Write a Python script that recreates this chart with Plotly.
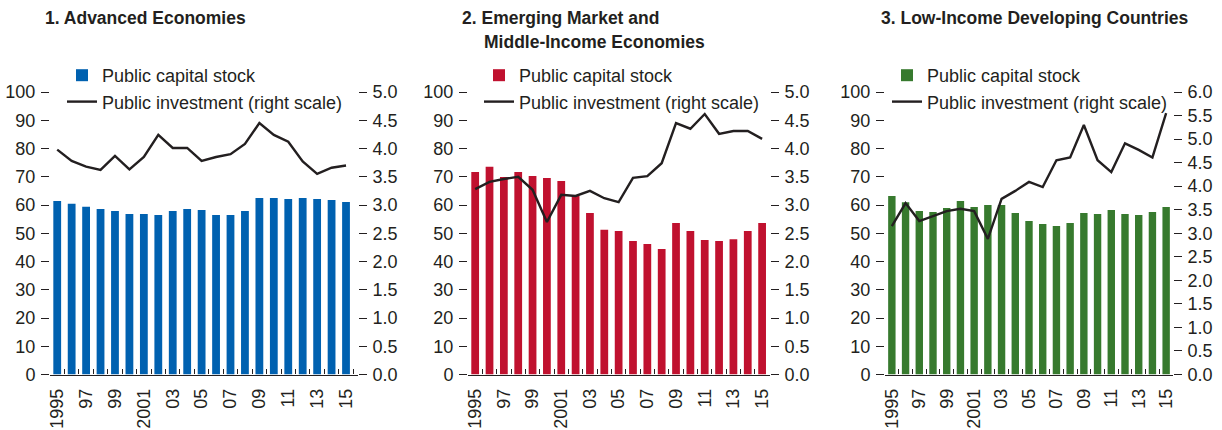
import plotly.graph_objects as go

years = [str(y) for y in range(1995, 2016)]
year_labels = ["1995", "", "97", "", "99", "", "2001", "", "03", "", "05", "",
               "07", "", "09", "", "11", "", "13", "", "15"]

adv_stock = [61.4, 60.4, 59.4, 58.6, 57.9, 56.8, 56.8, 56.5, 57.9, 58.6, 58.2,
             56.5, 56.5, 57.9, 62.5, 62.5, 62.1, 62.5, 62.1, 61.8, 61.1]
adv_inv = [3.98, 3.78, 3.68, 3.62, 3.87, 3.63, 3.85, 4.24, 4.01, 4.01, 3.78,
           3.85, 3.90, 4.08, 4.45, 4.24, 4.12, 3.77, 3.55, 3.66, 3.70]

em_stock = [71.7, 73.5, 69.9, 71.7, 70.3, 69.6, 68.5, 63.2, 57.2, 51.2, 50.8,
            47.3, 46.2, 44.4, 53.6, 50.8, 47.6, 47.3, 47.9, 50.8, 53.6]
em_inv = [3.28, 3.41, 3.46, 3.50, 3.27, 2.70, 3.18, 3.16, 3.25, 3.12, 3.05,
          3.48, 3.51, 3.74, 4.45, 4.35, 4.61, 4.26, 4.31, 4.31, 4.17]

lic_stock = [63.2, 61.0, 57.9, 57.5, 58.9, 61.4, 59.3, 60.0, 60.0, 57.2, 54.3,
             53.3, 52.6, 53.6, 57.2, 56.8, 58.2, 56.8, 56.5, 57.5, 59.3]
lic_inv = [3.15, 3.64, 3.26, 3.36, 3.47, 3.52, 3.47, 2.88, 3.73, 3.90, 4.09,
           3.98, 4.55, 4.61, 5.30, 4.55, 4.30, 4.91, 4.77, 4.61, 5.55]

titles = ["1. Advanced Economies", "2. Emerging Market and",
          "Middle-Income Economies", "3. Low-Income Developing Countries"]
bar_name = "Public capital stock"
line_name = "Public investment (right scale)"

colors = ["#0061b0", "#c0112f", "#377a2e"]
INK = "#231f20"
FONT = "Liberation Sans, Arial, sans-serif"
FS = 18

W, H = 1222, 430
def fx(px):
    return px / W
def fy(py):
    return 1 - py / H

panels = [
    dict(stock=adv_stock, inv=adv_inv, color=colors[0], left=50, right=358,
         xr=[-0.5, 20.83], rmax=5.0, legx=62),
    dict(stock=em_stock, inv=em_inv, color=colors[1], left=468, right=770,
         xr=[-0.5, 20.55], rmax=5.0, legx=479),
    dict(stock=lic_stock, inv=lic_inv, color=colors[2], left=885, right=1173,
         xr=[-0.5, 20.5], rmax=6.0, legx=887),
]

ydom = [fy(374.5), fy(92)]

fig = go.Figure()
layout = dict(
    width=W, height=H, autosize=False,
    margin=dict(l=0, r=0, t=0, b=0, autoexpand=False),
    paper_bgcolor="white", plot_bgcolor="white",
    font=dict(family=FONT, size=FS, color=INK),
    bargap=0.46,
)

for i, p in enumerate(panels):
    xa = "x" if i == 0 else f"x{i+1}"
    yl = "y" if i == 0 else f"y{2*i+1}"
    yr = f"y{2*i+2}"
    leg = "legend" if i == 0 else f"legend{i+1}"
    fig.add_trace(go.Bar(x=years, y=p["stock"], name=bar_name,
                         marker=dict(color=p["color"], line=dict(width=0)),
                         xaxis=xa, yaxis=yl, legend=leg))
    fig.add_trace(go.Scatter(x=years, y=p["inv"], name=line_name, mode="lines",
                             line=dict(color=INK, width=2.4),
                             xaxis=xa, yaxis=yr, legend=leg))
    xkey = "xaxis" if i == 0 else f"xaxis{i+1}"
    ylkey = "yaxis" if i == 0 else f"yaxis{2*i+1}"
    yrkey = f"yaxis{2*i+2}"
    layout[xkey] = dict(
        domain=[fx(p["left"]), fx(p["right"])], anchor=yl, type="category",
        range=p["xr"], tickmode="array", tickvals=years, ticktext=year_labels,
        tickson="boundaries", ticks="inside", ticklen=5, tickwidth=1,
        tickcolor=INK, showline=True, linecolor=INK, linewidth=1.2,
        tickangle=-90, tickfont=dict(family=FONT, size=FS, color=INK),
        showgrid=False, zeroline=False, ticklabelstandoff=6, automargin=False,
    )
    layout[ylkey] = dict(
        domain=ydom, anchor=xa, range=[0, 100], dtick=10, tick0=0,
        ticks="outside", ticklen=8, tickwidth=1, tickcolor=INK,
        showline=False, showgrid=False, zeroline=False, automargin=False,
        tickfont=dict(family=FONT, size=FS, color=INK), ticklabelstandoff=2,
    )
    layout[yrkey] = dict(
        domain=ydom, anchor=xa, overlaying=yl, side="right",
        range=[0, p["rmax"]], dtick=0.5, tick0=0, tickformat=".1f",
        ticks="outside", ticklen=8, tickwidth=1, tickcolor=INK,
        showline=False, showgrid=False, zeroline=False, automargin=False,
        tickfont=dict(family=FONT, size=FS, color=INK), ticklabelstandoff=2,
    )
    layout[leg] = dict(
        x=fx(p["legx"]), y=fy(57), xanchor="left", yanchor="top",
        bgcolor="rgba(0,0,0,0)", borderwidth=0,
        font=dict(family=FONT, size=FS, color=INK),
        tracegroupgap=0, itemwidth=30,
    )

fig.update_layout(**layout)

tfont = dict(family=FONT, size=17.5, color=INK)
for text, x, y in [(titles[0], 43, 18), (titles[1], 460, 18),
                   (titles[2], 482, 42), (titles[3], 879, 18)]:
    fig.add_annotation(text=f"<b>{text}</b>", xref="paper", yref="paper",
                       x=fx(x), y=fy(y), xanchor="left", yanchor="middle",
                       showarrow=False, font=tfont)

fig.write_html("out.html", config={"displayModeBar": False},
               post_script="document.body.style.margin='0';")
